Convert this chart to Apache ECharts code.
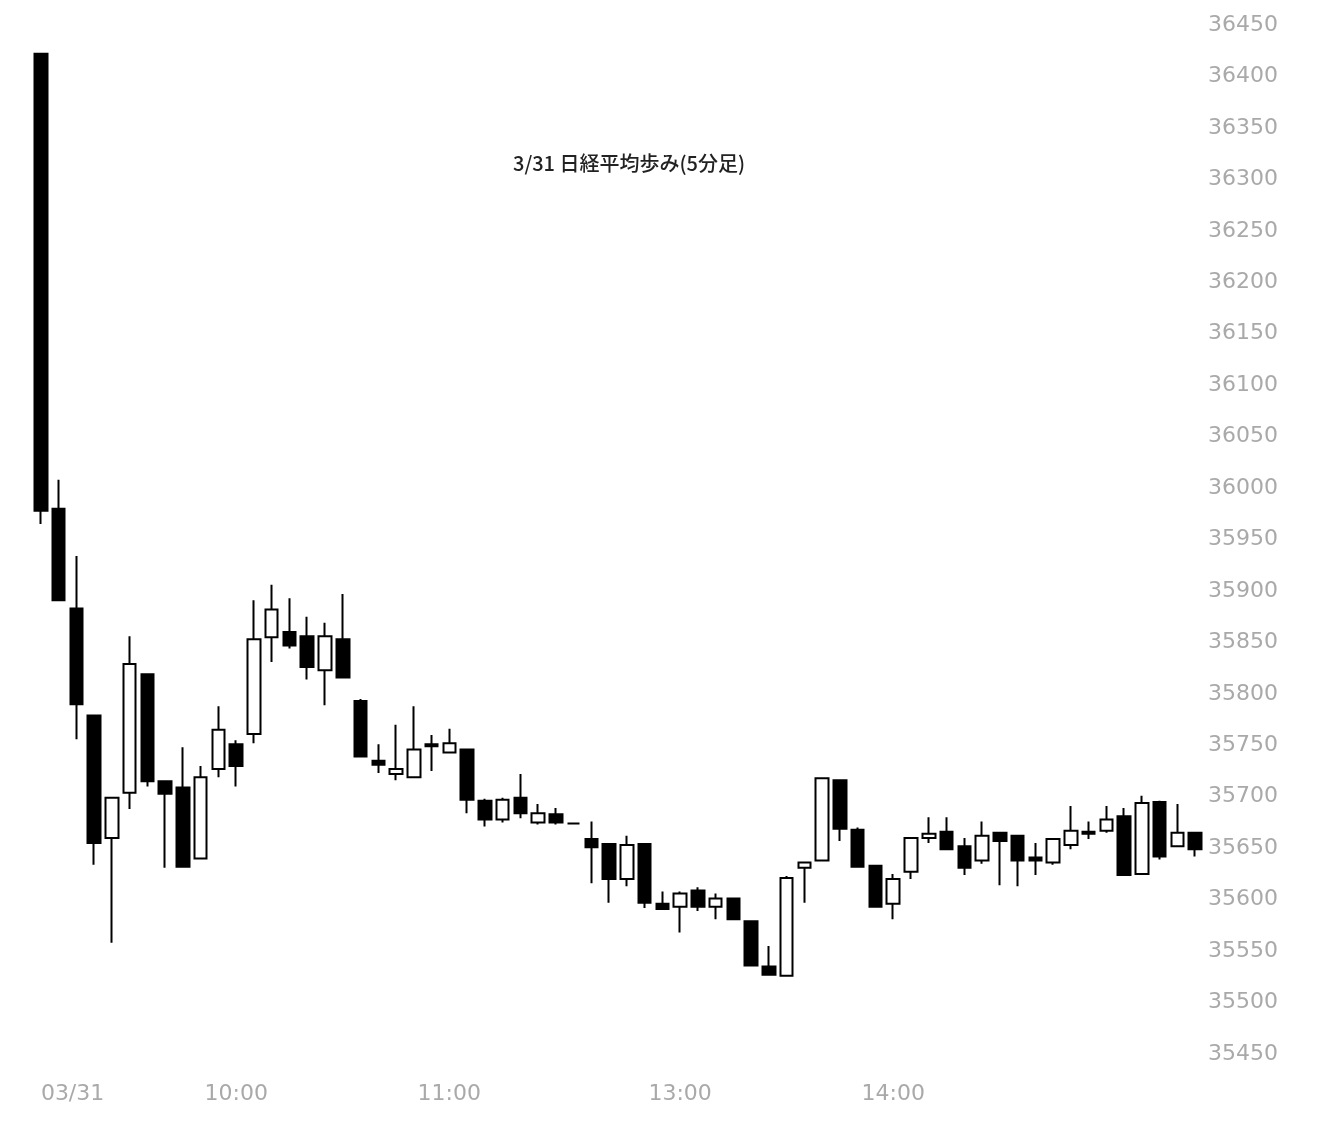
<!DOCTYPE html>
<html>
<head>
<meta charset="utf-8">
<title>3/31 日経平均歩み(5分足)</title>
<script src="https://cdn.jsdelivr.net/npm/echarts@6/dist/echarts.min.js"></script>
<style>
  html, body { margin: 0; padding: 0; background: #fff; }
  #main { width: 1332px; height: 1132px; }
</style>
</head>
<body>
<!--容器-->
<div id="main"></div>
<script>
// 5分足の時刻
var categories = [
  "09:05", "09:10", "09:15", "09:20", "09:25", "09:30", "09:35", "09:40", "09:45", "09:50", "09:55", "10:00",
  "10:05", "10:10", "10:15", "10:20", "10:25", "10:30", "10:35", "10:40", "10:45", "10:50", "10:55", "11:00",
  "11:05", "11:10", "11:15", "11:20", "11:25", "11:30",
  "12:30", "12:35", "12:40", "12:45", "12:50", "12:55", "13:00",
  "13:05", "13:10", "13:15", "13:20", "13:25", "13:30", "13:35", "13:40", "13:45", "13:50", "13:55", "14:00",
  "14:05", "14:10", "14:15", "14:20", "14:25", "14:30", "14:35", "14:40", "14:45", "14:50", "14:55", "15:00",
  "15:05", "15:10", "15:15", "15:20", "15:25"
];

// 始値
var openData = [
  36422, 35980, 35883, 35779, 35660, 35704, 35819, 35715, 35709, 35640, 35727, 35751,
  35761, 35855, 35860, 35856, 35823, 35853, 35793, 35735, 35722, 35719, 35751, 35743,
  35746, 35696, 35678, 35699, 35675, 35683,
  35674, 35659, 35654, 35620, 35654, 35596, 35593,
  35609, 35593, 35601, 35579, 35535, 35526, 35631, 35638, 35716, 35668, 35633, 35596,
  35627, 35660, 35666, 35652, 35638, 35665, 35662, 35641, 35636, 35653, 35666, 35667,
  35681, 35625, 35695, 35652, 35665
];
// 終値
var closeData = [
  35978, 35891, 35790, 35655, 35699, 35829, 35715, 35703, 35632, 35719, 35765, 35730,
  35853, 35882, 35847, 35826, 35856, 35816, 35739, 35731, 35727, 35746, 35749, 35752,
  35697, 35678, 35697, 35684, 35684, 35675,
  35674, 35651, 35620, 35653, 35597, 35591, 35606,
  35593, 35601, 35581, 35536, 35527, 35621, 35636, 35718, 35669, 35632, 35593, 35620,
  35660, 35664, 35649, 35631, 35662, 35657, 35638, 35638, 35659, 35667, 35664, 35678,
  35624, 35694, 35642, 35665, 35649
];
// 安値
var lowData = [
  35965, 35890, 35756, 35634, 35558, 35688, 35710, 35631, 35632, 35640, 35719, 35710,
  35752, 35831, 35844, 35814, 35789, 35816, 35739, 35723, 35716, 35719, 35725, 35743,
  35684, 35671, 35675, 35679, 35673, 35673,
  35674, 35616, 35597, 35613, 35592, 35591, 35568,
  35589, 35581, 35580, 35535, 35527, 35526, 35597, 35638, 35657, 35632, 35593, 35581,
  35620, 35655, 35649, 35624, 35635, 35614, 35613, 35624, 35634, 35649, 35659, 35665,
  35624, 35625, 35639, 35652, 35642
];
// 高値
var highData = [
  36422, 36008, 35934, 35780, 35700, 35856, 35820, 35716, 35748, 35730, 35788, 35755,
  35891, 35906, 35893, 35875, 35869, 35897, 35795, 35751, 35770, 35788, 35760, 35766,
  35747, 35698, 35699, 35722, 35693, 35689,
  35674, 35676, 35655, 35662, 35655, 35608, 35608,
  35612, 35606, 35602, 35580, 35555, 35623, 35637, 35719, 35717, 35670, 35634, 35625,
  35661, 35680, 35680, 35660, 35676, 35666, 35663, 35655, 35660, 35691, 35676, 35691,
  35689, 35701, 35696, 35693, 35666
];

// 横軸に表示する目盛
var labelIndex = [0, 11, 23, 36, 48];
var labelText = ["03/31", "10:00", "11:00", "13:00", "14:00"];

// ローソク足 [open, close, low, high]
var candles = openData.map(function (o, i) {
  return [o, closeData[i], lowData[i], highData[i]];
});

var myChart = echarts.init(document.getElementById("main"));

var option = {
  animation: false,
  backgroundColor: "#fff",
  //标题
  title: {
    text: "3/31 日経平均歩み(5分足)",
    left: 508,
    top: 148,
    textStyle: {
      color: "#222",
      fontSize: 20,
      fontWeight: 500,
      fontFamily: "Noto Sans CJK JP"
    }
  },
  grid: {
    left: 32,
    right: 128,
    top: 25,
    bottom: 78
  },
  //x轴
  xAxis: {
    type: "category",
    data: categories,
    boundaryGap: true,
    axisLine: { show: false },
    axisTick: { show: false },
    splitLine: { show: false },
    axisLabel: {
      color: "#a9a9a9",
      fontSize: 22,
      fontFamily: "DejaVu Sans",
      margin: 29,
      alignMinLabel: "left",
      interval: function (index) {
        return labelIndex.indexOf(index) >= 0;
      },
      formatter: function (value, index) {
        var k = labelIndex.indexOf(index);
        return k >= 0 ? labelText[k] : "";
      }
    }
  },
  //y轴
  yAxis: {
    type: "value",
    position: "right",
    min: 35450,
    max: 36450,
    interval: 50,
    axisLine: { show: false },
    axisTick: { show: false },
    splitLine: { show: false },
    axisLabel: {
      color: "#a9a9a9",
      fontSize: 22,
      fontFamily: "DejaVu Sans",
      margin: 4,
      formatter: function (v) {
        return String(v);
      }
    }
  },
  series: [
    {
      type: "candlestick",
      data: candles,
      barWidth: 13,
      itemStyle: {
        color: "#ffffff",
        color0: "#000000",
        borderColor: "#000000",
        borderColor0: "#000000",
        borderWidth: 2
      }
    }
  ]
};

myChart.setOption(option);
</script>
</body>
</html>
